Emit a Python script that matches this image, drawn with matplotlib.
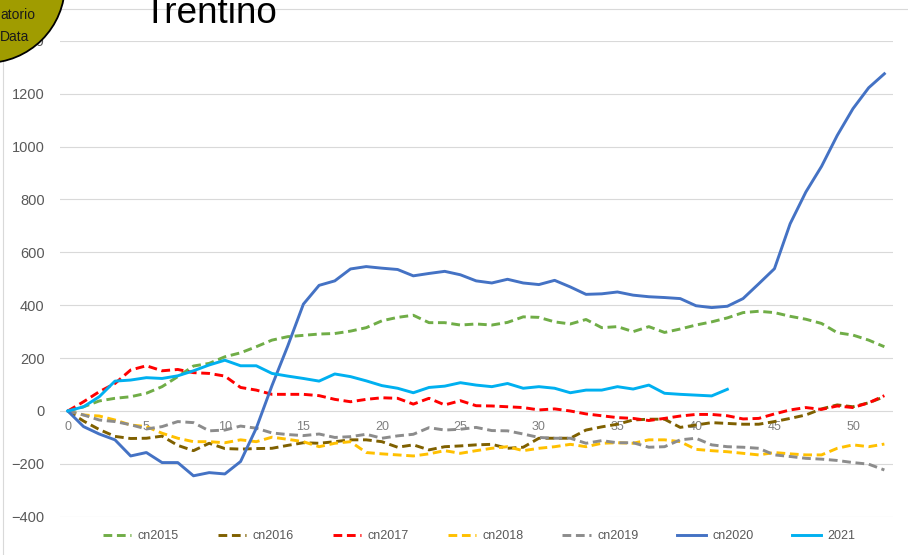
import matplotlib
matplotlib.use("Agg")
import matplotlib.pyplot as plt
from matplotlib.patches import Ellipse, Rectangle

plt.rcParams['font.family'] = ['Liberation Sans', 'DejaVu Sans']

# settimane 0..52
weeks = list(range(53))

cn2015 = [0, 16, 38, 48, 54, 67, 92, 130, 170, 180, 205, 220, 243, 268, 281, 286, 291, 293,
          302, 315, 341, 354, 362, 334, 334, 325, 329, 325, 335, 356, 354, 337, 329, 346, 315,
          319, 300, 319, 297, 310, 325, 337, 352, 372, 377, 372, 358, 347, 331, 296, 287, 268, 243]
cn2016 = [0, -38, -70, -96, -104, -103, -95, -130, -150, -122, -142, -144, -142, -141, -130, -120, -122, -116,
          -109, -109, -116, -137, -128, -147, -135, -132, -128, -126, -141, -137, -103, -103, -103, -72, -60,
          -50, -34, -31, -31, -62, -53, -44, -47, -50, -50, -40, -28, -15, 8, 23, 16, 31, 54]
cn2017 = [0, 35, 73, 104, 155, 171, 152, 157, 145, 142, 132, 89, 79, 63, 63, 63, 58, 44,
          35, 44, 50, 48, 26, 48, 23, 39, 20, 19, 16, 13, 4, 8, 0, -11, -18,
          -25, -28, -36, -28, -19, -13, -13, -18, -30, -28, -11, 4, 13, 6, 19, 13, 31, 58]
cn2018 = [0, -15, -19, -34, -53, -59, -84, -103, -116, -116, -120, -109, -116, -99, -107, -116, -135, -122,
          -116, -157, -162, -166, -170, -162, -150, -160, -150, -141, -135, -150, -141, -135, -126, -135, -122,
          -120, -122, -109, -109, -116, -145, -150, -154, -160, -166, -157, -162, -166, -166, -141, -128, -135, -125]
cn2019 = [0, -15, -34, -40, -52, -68, -59, -40, -44, -75, -72, -57, -65, -83, -89, -93, -87, -100,
          -97, -88, -103, -94, -88, -63, -72, -69, -62, -74, -75, -87, -100, -103, -103, -122, -112,
          -120, -120, -137, -135, -109, -103, -128, -135, -137, -141, -166, -172, -179, -182, -187, -195, -201, -223]
cn2020 = [0, -59, -87, -109, -170, -157, -195, -195, -245, -233, -238, -191, -65, 96, 245, 404, 475, 492,
          537, 546, 540, 535, 511, 520, 528, 515, 492, 484, 498, 484, 478, 494, 469, 441, 443,
          450, 438, 432, 429, 425, 398, 391, 396, 425, 481, 538, 708, 828, 925, 1042, 1143, 1222, 1275]
y2021 = [0, 16, 54, 113, 117, 126, 123, 133, 152, 174, 192, 171, 171, 142, 132, 123, 113, 140,
         130, 114, 96, 86, 69, 89, 94, 107, 98, 92, 104, 86, 92, 86, 69, 79, 79,
         92, 83, 98, 67, 63, 60, 57, 82]

series = [
    ('cn2015', cn2015, '#70AD47', 'dash'),
    ('cn2016', cn2016, '#7F6000', 'dash'),
    ('cn2017', cn2017, '#FF0000', 'dash'),
    ('cn2018', cn2018, '#FFC000', 'dash'),
    ('cn2019', cn2019, '#8C8C8C', 'dash'),
    ('cn2020', cn2020, '#4472C4', 'solid'),
    ('2021', y2021, '#00B0F0', 'solid'),
]

W, H = 908, 555
fig = plt.figure(figsize=(W / 100, H / 100), dpi=100)
ax = fig.add_axes([60 / W, 1 - 516.8 / H, 833 / W, (516.8 - 40.7) / H])
ax.set_facecolor('none')

for name, vals, col, style in series:
    ls = (0, (3, 1.6)) if style == 'dash' else '-'
    ax.plot(weeks[:len(vals)], vals, color=col, lw=2.1, ls=ls, label=name,
            solid_joinstyle='round', dash_capstyle='butt')

ax.set_xlim(-0.5, 52.55)
ax.set_ylim(-400, 1400)
ax.set_yticks(range(-400, 1401, 200))
ax.set_xticks(range(0, 51, 5))
ax.yaxis.grid(True, color='#D9D9D9', lw=0.8)
ax.set_axisbelow(True)
for s in ax.spines.values():
    s.set_visible(False)
ax.spines['bottom'].set_position(('data', 0))
ax.tick_params(axis='y', length=0, pad=11, labelsize=10.5, labelcolor='#595959')
ax.tick_params(axis='x', length=0, pad=7, labelsize=9, labelcolor='#7F7F7F')

fig.legend(loc='center', bbox_to_anchor=(479 / W, 1 - 536 / H), ncol=7, frameon=False,
           fontsize=9, handlelength=2.3, handletextpad=0.5, columnspacing=3.1, labelcolor='#595959')

# cornice del grafico
fig.add_artist(Rectangle((3 / W, -0.1), 1.2, 1.1 - 9 / H, transform=fig.transFigure,
                         fill=False, edgecolor='#D9D9D9', lw=0.8, zorder=0.5))

# logo in alto a sinistra
r = 79
fig.add_artist(Ellipse((-14 / W, 1 + 16 / H), 2 * r / W, 2 * r / H, transform=fig.transFigure,
                       facecolor='#A09C00', edgecolor='black', lw=1.3, zorder=2))
fig.text(0 / W, 1 - 15 / H, 'atorio', fontsize=10, color='#1a1a1a', va='center', ha='left', zorder=3)
fig.text(0 / W, 1 - 37 / H, 'Data', fontsize=10, color='#1a1a1a', va='center', ha='left', zorder=3)

fig.text(143 / W, 1 - 23 / H, 'Trentino', fontsize=26.6, color='black', va='baseline', ha='left')

fig.savefig('out.png', dpi=100)
